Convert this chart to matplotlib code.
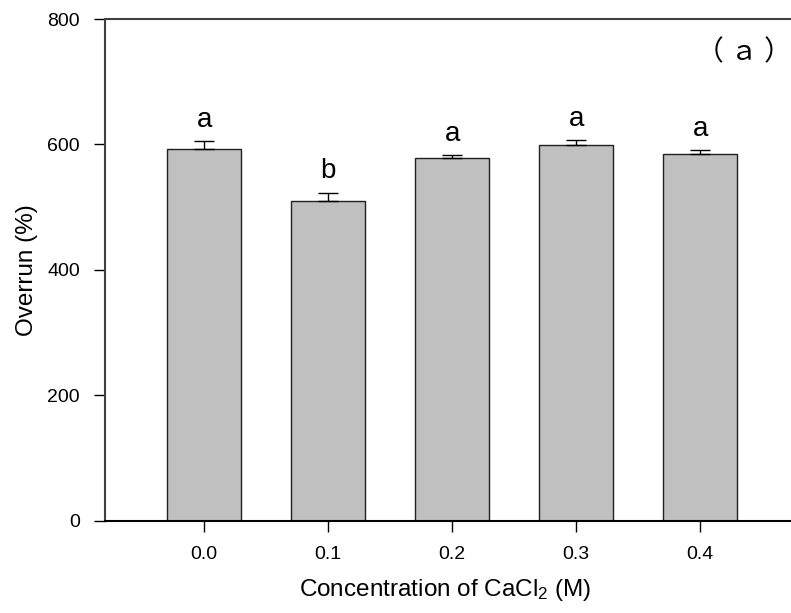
import numpy as np
import matplotlib
matplotlib.use("Agg")
from matplotlib import pyplot as plt

plt.rcParams['font.family'] = ['Liberation Sans', 'DejaVu Sans']
plt.rcParams['mathtext.fontset'] = 'custom'
plt.rcParams['mathtext.rm'] = 'Liberation Sans'
plt.rcParams['mathtext.it'] = 'Liberation Sans'

# data
concentrations = ['0.0', '0.1', '0.2', '0.3', '0.4']
overrun = [593, 510, 579, 599, 584]
overrun_err = [12, 13, 4, 8, 7]
letters = ['a', 'b', 'a', 'a', 'a']

fig = plt.figure(figsize=(7.91, 6.13), dpi=100)
# axes run past the right edge, the right spine is cut off in the original
ax = fig.add_axes([105/791, 1 - 520.7/613, 694.4/791, 501.7/613])

x = np.arange(len(concentrations))
ax.bar(x, overrun, width=0.6, color='#c0c0c0', edgecolor='#202020', linewidth=1.0, zorder=2)
ax.errorbar(x, overrun, yerr=[np.zeros(len(x)), overrun_err], fmt='none',
            ecolor='black', elinewidth=1.0, capsize=7, capthick=1.0, zorder=3)

for xi, v, e, lab in zip(x, overrun, overrun_err, letters):
    ax.annotate(lab, (xi, v + e), xytext=(0, 6), textcoords='offset points',
                ha='center', va='bottom', fontsize=20)

ax.set_xlim(-0.8, 4.8)
ax.set_ylim(0, 800)
ax.set_xticks(x)
ax.set_xticklabels(concentrations)
ax.set_yticks([0, 200, 400, 600, 800])
ax.tick_params(axis='both', direction='out', length=8, width=1, labelsize=14, pad=10)

ax.spines['left'].set_color('#404040')
ax.spines['top'].set_color('#404040')
ax.spines['left'].set_linewidth(1.5)
ax.spines['top'].set_linewidth(1.5)
ax.spines['bottom'].set_linewidth(1.5)
ax.spines['right'].set_visible(False)

ax.set_xlabel('Concentration of CaCl$_2$ (M)', fontsize=17.5)
ax.set_ylabel('Overrun (%)', fontsize=17.5)
ax.xaxis.set_label_coords((445 - 105) / 694.4, -0.112)
ax.yaxis.set_label_coords(-0.097, 0.5)

fig.text(744/791, 1 - 52/613, '（ ａ ）', fontsize=20, ha='center', va='center',
         family=['Noto Sans CJK JP', 'DejaVu Sans'])

plt.savefig('out.png', dpi=100)
